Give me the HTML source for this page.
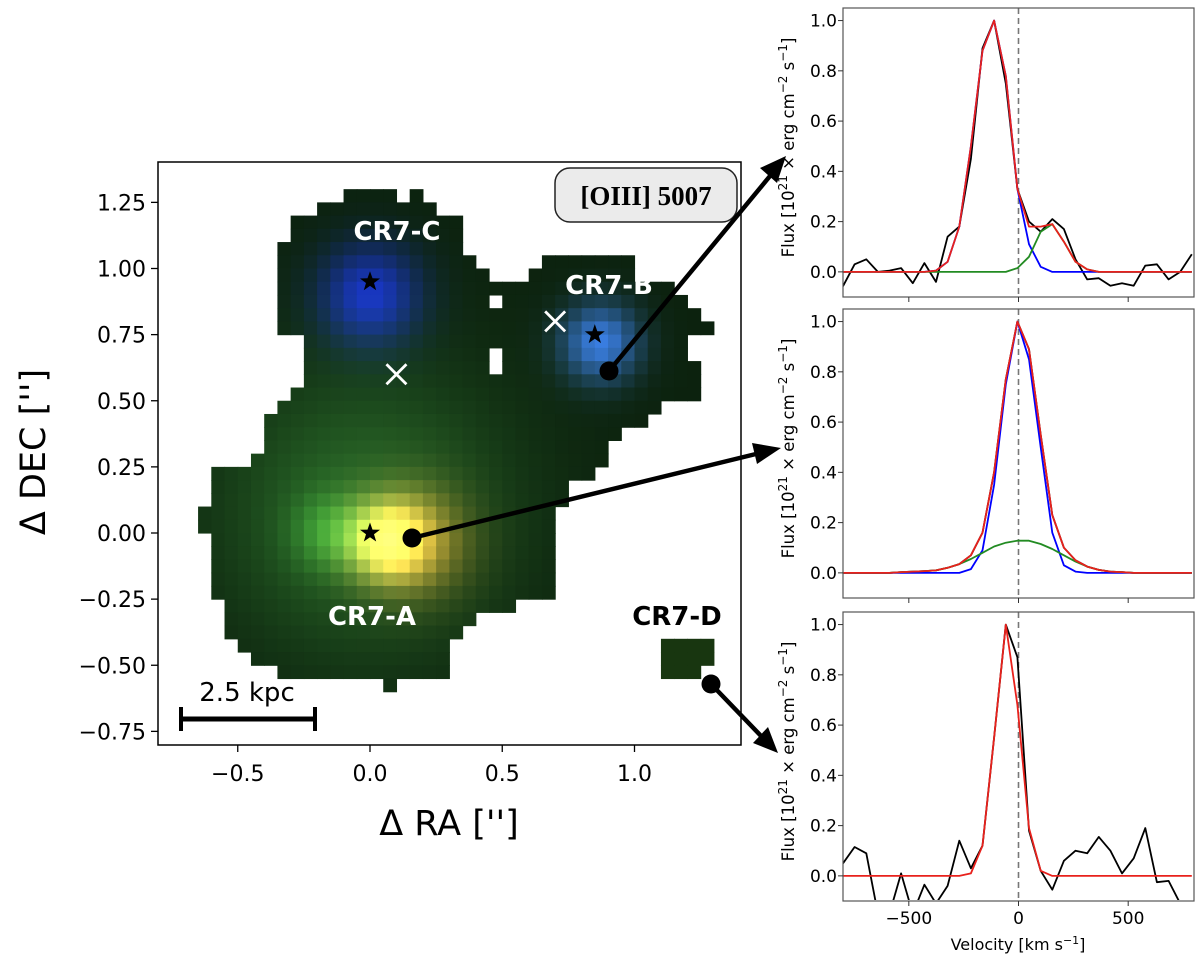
<!DOCTYPE html>
<html><head><meta charset="utf-8">
<style>
html,body{margin:0;padding:0;background:#fff;}
svg{display:block;font-family:"DejaVu Sans","Liberation Sans",sans-serif;}
</style></head>
<body>
<svg id="fig" width="1200" height="963" viewBox="0 0 1200 963" xmlns="http://www.w3.org/2000/svg">
<defs>
<clipPath id="mapclip"><rect x="158" y="162" width="583" height="583"/></clipPath>
<clipPath id="c1"><rect x="843" y="8" width="351" height="289"/></clipPath>
<clipPath id="c2"><rect x="843" y="309" width="351" height="289"/></clipPath>
<clipPath id="c3"><rect x="843" y="612" width="351" height="288"/></clipPath>
</defs>
<g id="map"></g>
<g id="spec"></g>
<g id="ann"></g>
</svg>
<script>
// ---------- map data ----------
const maskRows = [
 [1.30,[[-0.10,0.10],[0.15,0.20]]],
 [1.25,[[-0.20,0.25]]],
 [1.20,[[-0.30,0.35]]],
 [1.15,[[-0.30,0.35]]],
 [1.10,[[-0.35,0.35]]],
 [1.05,[[-0.35,0.40],[0.65,1.00]]],
 [1.00,[[-0.35,0.45],[0.60,1.00]]],
 [0.95,[[-0.35,1.15]]],
 [0.90,[[-0.35,0.45],[0.50,1.20]]],
 [0.85,[[-0.35,1.25]]],
 [0.80,[[-0.35,1.30]]],
 [0.75,[[-0.25,1.20]]],
 [0.70,[[-0.25,0.45],[0.50,1.20]]],
 [0.65,[[-0.25,0.45],[0.50,1.25]]],
 [0.60,[[-0.25,1.25]]],
 [0.55,[[-0.30,1.25]]],
 [0.50,[[-0.35,1.10]]],
 [0.45,[[-0.40,1.05]]],
 [0.40,[[-0.40,0.95]]],
 [0.35,[[-0.40,0.90]]],
 [0.30,[[-0.45,0.90]]],
 [0.25,[[-0.60,0.85]]],
 [0.20,[[-0.60,0.75]]],
 [0.15,[[-0.60,0.75]]],
 [0.10,[[-0.65,0.70]]],
 [0.05,[[-0.65,0.70]]],
 [0.00,[[-0.60,0.70]]],
 [-0.05,[[-0.60,0.70]]],
 [-0.10,[[-0.60,0.70]]],
 [-0.15,[[-0.60,0.70]]],
 [-0.20,[[-0.60,0.70]]],
 [-0.25,[[-0.55,0.55]]],
 [-0.30,[[-0.55,0.40]]],
 [-0.35,[[-0.55,0.35]]],
 [-0.40,[[-0.50,0.30],[1.10,1.30]]],
 [-0.45,[[-0.45,0.30],[1.10,1.30]]],
 [-0.50,[[-0.35,0.30],[1.10,1.25]]],
 [-0.55,[[0.05,0.10]]]
];
const mapXTicks = [-0.5,0.0,0.5,1.0];
const mapXTickLabels = ["\u22120.5","0.0","0.5","1.0"];
const mapYTicks = [1.25,1.00,0.75,0.50,0.25,0.00,-0.25,-0.50,-0.75];
const mapYTickLabels = ["1.25","1.00","0.75","0.50","0.25","0.00","\u22120.25","\u22120.50","\u22120.75"];
const starsRA = [0.0,0.85,0.0];
const starsDEC = [0.95,0.75,0.0];
const crossRA = [0.1,0.7];
const crossDEC = [0.6,0.8];

// ---------- spectra data ----------
const velocity = [-800,-747,-694,-641,-588,-535,-482,-429,-376,-323,-270,-217,-164,-111,-58,-5,48,101,154,207,260,313,366,419,472,525,578,631,684,737,790];
const velTicks = [-500,0,500];
const velTickLabels = ["\u2212500","0","500"];
const fluxTicks = [0.0,0.2,0.4,0.6,0.8,1.0];
const fluxTickLabels = ["0.0","0.2","0.4","0.6","0.8","1.0"];
const b_black = [-0.057,0.03,0.05,0.0,0.005,0.015,-0.045,0.035,-0.04,0.14,0.18,0.45,0.89,1.0,0.75,0.33,0.2,0.16,0.21,0.17,0.05,-0.03,-0.025,-0.055,-0.045,-0.055,0.025,0.03,-0.03,0.0,0.07];
const b_blue  = [0,0,0,0,0,0,0,0,0.005,0.04,0.18,0.5,0.88,1.0,0.78,0.33,0.11,0.02,0,0,0,0,0,0,0,0,0,0,0,0,0];
const b_green = [0,0,0,0,0,0,0,0,0,0,0,0,0,0,0,0.015,0.06,0.16,0.19,0.12,0.04,0.01,0,0,0,0,0,0,0,0,0];
const b_red   = [0,0,0,0,0,0,0,0,0.005,0.04,0.18,0.5,0.88,1.0,0.78,0.33,0.18,0.18,0.19,0.12,0.04,0.01,0,0,0,0,0,0,0,0,0];
const a_black = [0,0,0,0,0,0.003,0.005,0.007,0.01,0.02,0.035,0.07,0.16,0.4,0.77,1.0,0.89,0.55,0.23,0.1,0.05,0.025,0.012,0.005,0.003,0,0,0,0,0,0];
const a_blue  = [0,0,0,0,0,0,0,0,0,0,0,0.015,0.09,0.35,0.75,1.0,0.85,0.5,0.16,0.03,0.005,0,0,0,0,0,0,0,0,0,0];
const a_green = [0,0,0,0,0,0.003,0.005,0.007,0.01,0.02,0.035,0.055,0.08,0.105,0.12,0.128,0.128,0.115,0.095,0.07,0.045,0.025,0.012,0.005,0.003,0,0,0,0,0,0];
const a_red   = [0,0,0,0,0,0.003,0.005,0.007,0.01,0.02,0.035,0.07,0.16,0.4,0.77,1.0,0.89,0.55,0.23,0.1,0.05,0.025,0.012,0.005,0.003,0,0,0,0,0,0];
const d_black = [0.05,0.115,0.09,-0.15,-0.15,0.01,-0.15,-0.035,-0.11,-0.04,0.14,0.03,0.12,0.55,1.0,0.87,0.18,0.02,-0.055,0.06,0.1,0.09,0.155,0.1,0.01,0.07,0.19,-0.025,-0.02,-0.11,-0.1];
const d_red   = [0,0,0,0,0,0,0,0,0,0,0,0.01,0.12,0.55,1.0,0.68,0.19,0.02,0,0,0,0,0,0,0,0,0,0,0,0,0];

const NS="http://www.w3.org/2000/svg";
function mk(tag,attrs,parent){const e=document.createElementNS(NS,tag);for(const k in attrs)e.setAttribute(k,attrs[k]);if(parent)parent.appendChild(e);return e;}

// ---------- map ----------
const mapG=document.getElementById('map');
const mx=v=>370+v*264.5;
const my=v=>533-v*264.5;
function gs(dx,dy,s){return Math.exp(-(dx*dx+dy*dy)/(2*s*s));}
function colorAt(x,y){
  let r=12,g=34,b=14;
  const gw=gs(x+0.02,y-0.08,0.38); r+=28*gw; g+=70*gw; b+=25*gw;
  const gl=gs(x+0.15,y+0.0,0.1); r+=25*gl; g+=70*gl; b+=20*gl;
  const ya=gs(x-0.07,y+0.03,0.1); r+=220*ya; g+=175*ya; b+=80*ya;
  const oa=gs(x-0.17,y+0.03,0.14); r+=130*oa; g+=55*oa; b+=10*oa;
  const c=gs(x,y-0.9,0.13); r+=10*c; g+=15*c; b+=180*c;
  const bb=gs(x-0.87,y-0.72,0.1); r+=45*bb; g+=90*bb; b+=210*bb;
  const cl=v=>Math.max(0,Math.min(255,Math.round(v)));
  return `rgb(${cl(r)},${cl(g)},${cl(b)})`;
}
const pix=mk('g',{'clip-path':'url(#mapclip)'},mapG);


maskRows.forEach(([yt,ranges])=>{
  ranges.forEach(([x0,x1])=>{
    for(let x=x0;x<x1-1e-6;x+=0.05){
      const fill=(x>1.05&&yt<-0.3)?'rgb(24,54,16)':colorAt(x+0.025,yt-0.025);
      const r=mk('rect',{x:mx(x),y:my(yt),width:13.8,height:13.8,fill:fill},pix);
      
      
    }
  });
});
const frame=mk('rect',{x:158,y:162,width:583,height:583,fill:'none',stroke:'#000','stroke-width':1.5},mapG);


mapXTicks.forEach((t,i)=>{
  mk('line',{x1:mx(t),x2:mx(t),y1:745,y2:752,stroke:'#000','stroke-width':1.3},mapG);
  const tx=mk('text',{x:mx(t),y:781,'font-size':22,'text-anchor':'middle'},mapG);
  tx.textContent=mapXTickLabels[i];
  
  
});
mapYTicks.forEach((t,i)=>{
  mk('line',{x1:151,x2:158,y1:my(t),y2:my(t),stroke:'#000','stroke-width':1.3},mapG);
  const tx=mk('text',{x:146,y:my(t)+8,'font-size':22,'text-anchor':'end'},mapG);
  tx.textContent=mapYTickLabels[i];
  
  
});
starsRA.forEach((v,i)=>{
  const cx=mx(v),cy=my(starsDEC[i]);let p='';
  for(let k=0;k<10;k++){const rr=k%2?4.2:10.5;const a=-Math.PI/2+k*Math.PI/5;p+=(cx+rr*Math.cos(a)).toFixed(1)+','+(cy+rr*Math.sin(a)).toFixed(1)+' ';}
  const s=mk('polygon',{points:p,fill:'#000'},mapG);
  
  
});
crossRA.forEach((v,i)=>{
  const cx=mx(v),cy=my(crossDEC[i]);
  const g=mk('g',{stroke:'#fff','stroke-width':2.8},mapG);
  
  
  mk('line',{x1:cx-10,y1:cy-10,x2:cx+10,y2:cy+10},g);
  mk('line',{x1:cx-10,y1:cy+10,x2:cx+10,y2:cy-10},g);
});

// ---------- spectra ----------
const specG=document.getElementById('spec');
const panels=[
 {top:8,clip:'c1',series:[[b_black,'#000'],[b_blue,'#0000ff'],[b_green,'#228B22'],[b_red,'#e8211c']],labels:false,name:'spectrum-cr7-b'},
 {top:309,clip:'c2',series:[[a_black,'#000'],[a_blue,'#0000ff'],[a_green,'#228B22'],[a_red,'#e8211c']],labels:false,name:'spectrum-cr7-a'},
 {top:612,clip:'c3',series:[[d_black,'#000'],[d_red,'#e8211c']],labels:true,name:'spectrum-cr7-d'}
];
const L=843,W=351,H=289;
const vx=v=>L+(v+800)/1600*W;
panels.forEach(p=>{
  const g=mk('g',{},specG);
  
  
  const fy=f=>p.top+(1.05-f)/1.15*H;
  const dash=mk('line',{x1:vx(0),x2:vx(0),y1:p.top,y2:p.top+H,stroke:'#777','stroke-width':1.6,'stroke-dasharray':'6,4'},g);
  
  
  const cg=mk('g',{'clip-path':`url(#${p.clip})`},g);
  p.series.forEach(([arr,c])=>{
    const pts=arr.map((f,i)=>vx(velocity[i]).toFixed(1)+','+fy(f).toFixed(1)).join(' ');
    const pl=mk('polyline',{points:pts,fill:'none',stroke:c,'stroke-width':1.8,'stroke-linejoin':'round'},cg);
    
    
  });
  const fr=mk('rect',{x:L,y:p.top,width:W,height:H,fill:'none',stroke:'#555','stroke-width':1.2},g);
  
  
  fluxTicks.forEach((t,i)=>{
    mk('line',{x1:L-5,x2:L,y1:fy(t),y2:fy(t),stroke:'#333','stroke-width':1},g);
    const tx=mk('text',{x:L-6,y:fy(t)+6,'font-size':17,'text-anchor':'end'},g);
    tx.textContent=fluxTickLabels[i];
    
    
  });
  velTicks.forEach((t,i)=>{
    mk('line',{x1:vx(t),x2:vx(t),y1:p.top+H,y2:p.top+H+5,stroke:'#333','stroke-width':1},g);
    if(p.labels){
      const tx=mk('text',{x:vx(t),y:p.top+H+23,'font-size':17,'text-anchor':'middle'},g);
      tx.textContent=velTickLabels[i];
      
      
    }
  });
  const cy=p.top+H/2-5;
  const yl=mk('text',{x:0,y:0,'font-size':16.5,'text-anchor':'middle',transform:`translate(794,${cy}) rotate(-90)`},g);
  
  
  yl.innerHTML='Flux [10<tspan dy="-7" font-size="12">21</tspan><tspan dy="7"> × erg cm</tspan><tspan dy="-7" font-size="12">−2</tspan><tspan dy="7"> s</tspan><tspan dy="-7" font-size="12">−1</tspan><tspan dy="7">]</tspan>';
});
const vl=mk('text',{x:1018,y:950,'font-size':16,'text-anchor':'middle'},specG);


vl.innerHTML='Velocity [km s<tspan dy="-6" font-size="11">−1</tspan><tspan dy="6">]</tspan>';
</script>
<script>
const A=document.getElementById('ann');
A.innerHTML=`
<text transform="translate(45,452) rotate(-90)" font-size="35" text-anchor="middle">Δ DEC ['']</text>
<text x="449" y="835" font-size="35" text-anchor="middle">Δ RA ['']</text>
<text x="397" y="240" font-size="26" font-weight="bold" fill="#fff" text-anchor="middle">CR7-C</text>
<text x="609" y="294" font-size="26" font-weight="bold" fill="#fff" text-anchor="middle">CR7-B</text>
<text x="372" y="625" font-size="26" font-weight="bold" fill="#fff" text-anchor="middle">CR7-A</text>
<text x="677" y="625" font-size="26" font-weight="bold" fill="#000" text-anchor="middle">CR7-D</text>
<g>
<rect x="555" y="168" width="182" height="54" rx="15" fill="#ebebeb" stroke="#222" stroke-width="1.5"/>
<text x="646" y="205" font-family="'Liberation Serif','DejaVu Serif',serif" font-size="27" font-weight="bold" text-anchor="middle">[OIII] 5007</text>
</g>
<g>
<text x="247" y="701" font-size="26" text-anchor="middle">2.5 kpc</text>
<line x1="181" y1="719" x2="315" y2="719" stroke="#000" stroke-width="5"/>
<line x1="181" y1="707" x2="181" y2="731" stroke="#000" stroke-width="4"/>
<line x1="315" y1="707" x2="315" y2="731" stroke="#000" stroke-width="4"/>
</g>
<g>
<line x1="609" y1="371" x2="770" y2="176" stroke="#000" stroke-width="4.5"/>
<polygon points="786,156 777,183 760,168" fill="#000"/>
<circle cx="609" cy="371" r="9.5" fill="#000"/>
</g>
<g>
<line x1="412" y1="538" x2="760" y2="453" stroke="#000" stroke-width="4.5"/>
<polygon points="781,448 757,464 752,443" fill="#000"/>
<circle cx="412" cy="538" r="9.5" fill="#000"/>
</g>
<g>
<line x1="711" y1="684" x2="762" y2="737" stroke="#000" stroke-width="4.5"/>
<polygon points="778,753 753,743 768,727" fill="#000"/>
<circle cx="711" cy="684" r="9.5" fill="#000"/>
</g>`;
</script>
</body></html>
